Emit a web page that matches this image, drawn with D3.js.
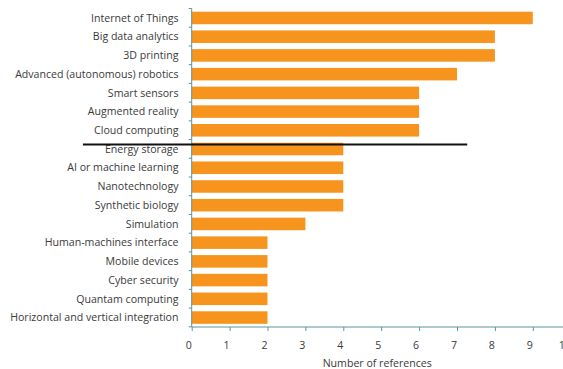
<!DOCTYPE html>
<html>
<head>
<meta charset="utf-8">
<script src="https://cdn.jsdelivr.net/npm/d3@7"></script>
<style>
  html, body { margin: 0; padding: 0; background: #fff; }
  svg { display: block; font-family: "Open Sans", "DejaVu Sans", sans-serif; }
</style>
</head>
<body>
<svg id="chart" width="563" height="369"></svg>
<script>
// Technologies and how many references mention each one
const categories = [
  "Internet of Things",
  "Big data analytics",
  "3D printing",
  "Advanced (autonomous) robotics",
  "Smart sensors",
  "Augmented reality",
  "Cloud computing",
  "Energy storage",
  "AI or machine learning",
  "Nanotechnology",
  "Synthetic biology",
  "Simulation",
  "Human-machines interface",
  "Mobile devices",
  "Cyber security",
  "Quantam computing",
  "Horizontal and vertical integration"
];
const references = [9, 8, 8, 7, 6, 6, 6, 4, 4, 4, 4, 3, 2, 2, 2, 2, 2];
const xTicks = [0, 1, 2, 3, 4, 5, 6, 7, 8, 9, 10];
const xTitle = "Number of references";
// Cut-off marker drawn just above this category
const cutoffCategory = "Energy storage";
const cutoffExtent = [-2.87, 7.27];

const svg = d3.select("#chart");
const margin = { top: 8.5, left: 191.7, plotBottom: 327 };

const x = d3.scaleLinear().domain([0, 10]).range([margin.left, margin.left + 379]);
const y = d3.scaleBand().domain(categories).range([margin.top, margin.plotBottom]).paddingInner(0.33).paddingOuter(0.17);

const axisColor = "#5a949c";
const textColor = "#3a3a3a";

// Bars
svg.append("g").selectAll("rect")
  .data(categories)
  .join("rect")
  .attr("x", x(0))
  .attr("y", d => y(d))
  .attr("width", (d, i) => x(references[i]) - x(0))
  .attr("height", y.bandwidth())
  .attr("fill", "#f7941d");

// Y axis: line with small ticks at band boundaries
const yAxis = svg.append("g");
yAxis.append("line")
  .attr("x1", x(0)).attr("x2", x(0))
  .attr("y1", margin.top).attr("y2", margin.plotBottom)
  .attr("stroke", axisColor).attr("stroke-width", 1);
const step = y.step();
const bounds = d3.range(categories.length + 1).map(i => margin.top + i * step);
yAxis.selectAll("line.tick")
  .data(bounds)
  .join("line")
  .attr("class", "tick")
  .attr("x1", x(0) - 3).attr("x2", x(0))
  .attr("y1", d => d).attr("y2", d => d)
  .attr("stroke", axisColor);
yAxis.selectAll("text")
  .data(categories)
  .join("text")
  .attr("x", 178.5)
  .attr("y", d => y(d) + y.bandwidth() / 2)
  .attr("dy", "0.35em")
  .attr("text-anchor", "end")
  .attr("font-size", 10.6)
  .attr("fill", textColor)
  .text(d => d);

// X axis
const xAxis = svg.append("g").attr("transform", `translate(0,${margin.plotBottom})`)
  .call(d3.axisBottom(x).tickValues(xTicks).tickSize(4).tickPadding(10).tickFormat(d3.format("d")));
xAxis.select(".domain").attr("stroke", axisColor).attr("d", `M${x(0)},0H${x(10)}`);
xAxis.selectAll(".tick line").attr("stroke", axisColor);
xAxis.selectAll(".tick text")
  .attr("x", d => d === 10 ? -6.5 : -3.5)
  .attr("font-size", 10.6)
  .attr("fill", textColor)
  .attr("font-family", "\"Open Sans\", \"DejaVu Sans\", sans-serif");

svg.append("text")
  .attr("x", x(5) - 4)
  .attr("y", 366.5)
  .attr("text-anchor", "middle")
  .attr("font-size", 10.6)
  .attr("fill", textColor)
  .text(xTitle);

// Cut-off line
const cutY = y(cutoffCategory) + 1.8;
svg.append("line")
  .attr("x1", x(cutoffExtent[0])).attr("x2", x(cutoffExtent[1]))
  .attr("y1", cutY).attr("y2", cutY)
  .attr("stroke", "#111").attr("stroke-width", 2);
</script>
</body>
</html>
